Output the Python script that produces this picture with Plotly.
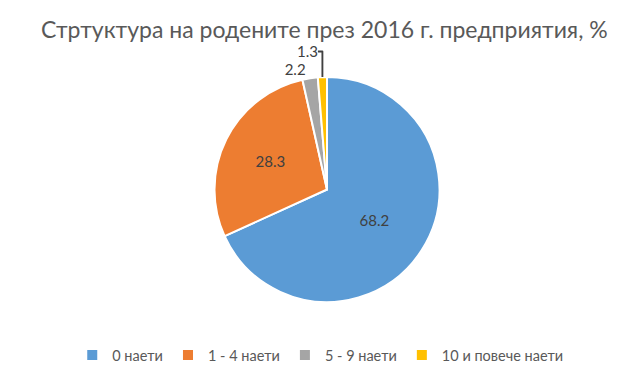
import plotly.graph_objects as go

categories = ["0 наети", "1 - 4 наети", "5 - 9 наети", "10 и повече наети"]
values = [68.2, 28.3, 2.2, 1.3]
colors = ["#5B9BD5", "#ED7D31", "#A5A5A5", "#FFC000"]
title_text = "Стртуктура на родените през 2016 г. предприятия, %"

fig = go.Figure(go.Pie(
    labels=categories,
    values=values,
    sort=False,
    direction="clockwise",
    rotation=0,
    marker=dict(colors=colors, line=dict(color="white", width=2)),
    textinfo="value",
    texttemplate="%{value}",
    textposition=["inside", "inside", "outside", "outside"],
    insidetextorientation="horizontal",
    textfont=dict(family="Lato", size=15, color="#404040"),
    hoverinfo="label+value",
))

fig.update_layout(
    width=638, height=387,
    margin=dict(l=76, r=84, t=69, b=93),
    paper_bgcolor="white",
    plot_bgcolor="white",
    title=dict(text=title_text, x=0.496, xref="container", xanchor="center", y=0.943, yanchor="middle",
               font=dict(family="Lato", size=23, color="#595959")),
    showlegend=True,
    legend=dict(orientation="h", x=-0.098, xanchor="left", y=-0.236, yanchor="middle",
                font=dict(family="Lato", size=14.5, color="#595959"),
                itemwidth=30, traceorder="normal"),
)

fig.write_html("out.html")
